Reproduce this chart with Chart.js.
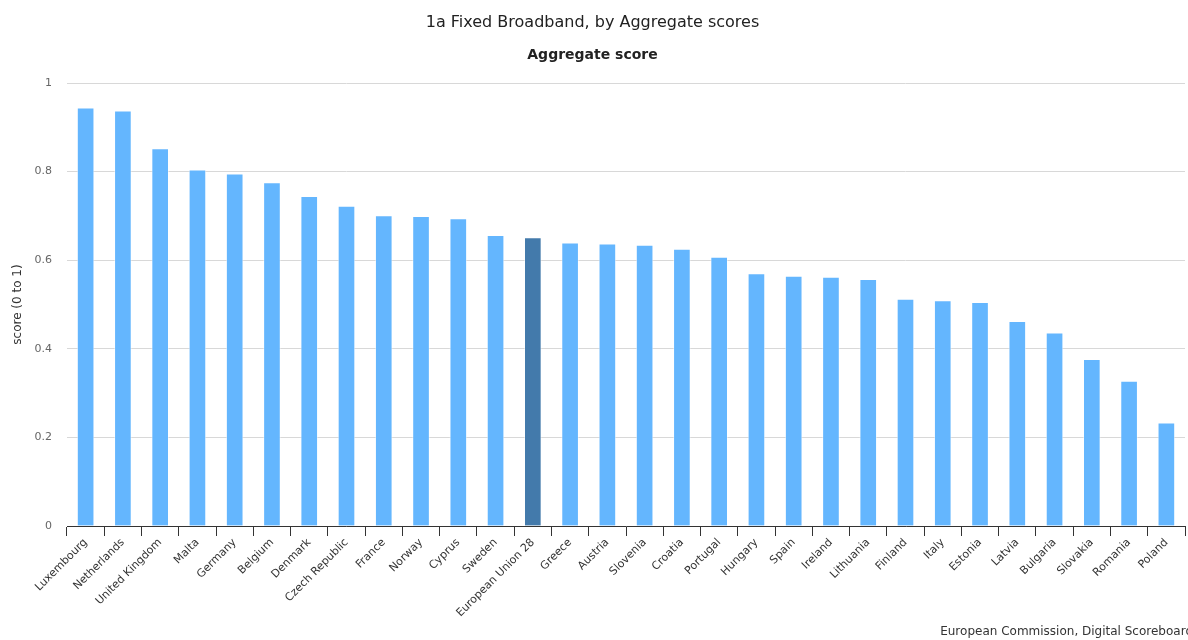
<!DOCTYPE html>
<html>
<head>
<meta charset="utf-8">
<script src="https://cdn.jsdelivr.net/npm/chart.js@4"></script>
<style>
  html, body { margin: 0; padding: 0; background: #ffffff; }
  #wrap { width: 1188px; height: 640px; position: relative; }
</style>
</head>
<body>
<div id="wrap"><canvas id="chart" width="1188" height="640"></canvas></div>
<script>
// Fixed broadband aggregate scores per country
const countries = [
  "Luxembourg", "Netherlands", "United Kingdom", "Malta", "Germany", "Belgium",
  "Denmark", "Czech Republic", "France", "Norway", "Cyprus", "Sweden",
  "European Union 28", "Greece", "Austria", "Slovenia", "Croatia", "Portugal",
  "Hungary", "Spain", "Ireland", "Lithuania", "Finland", "Italy", "Estonia",
  "Latvia", "Bulgaria", "Slovakia", "Romania", "Poland"
];
const scores = [
  0.944, 0.937, 0.852, 0.804, 0.795, 0.775,
  0.744, 0.722, 0.701, 0.699, 0.694, 0.656,
  0.651, 0.639, 0.637, 0.634, 0.625, 0.607,
  0.570, 0.564, 0.562, 0.557, 0.512, 0.509, 0.505,
  0.462, 0.436, 0.376, 0.327, 0.233
];
const yTicks = [0, 0.2, 0.4, 0.6, 0.8, 1];

const countryColor = "#64b6fe";
const euColor = "#437aab";
const barColors = countries.map(c => c === "European Union 28" ? euColor : countryColor);

const FONT = "'DejaVu Sans', Verdana, sans-serif";

// Source line in the bottom-right corner
const creditPlugin = {
  id: "credit",
  afterDraw(chart) {
    const ctx = chart.ctx;
    ctx.save();
    ctx.font = "12px " + FONT;
    ctx.fillStyle = "#333333";
    ctx.textAlign = "right";
    ctx.textBaseline = "middle";
    ctx.fillText("European Commission, Digital Scoreboard", 1193, 632);
    ctx.restore();
  }
};

new Chart(document.getElementById("chart"), {
  type: "bar",
  data: {
    labels: countries,
    datasets: [{
      data: scores,
      backgroundColor: barColors,
      borderColor: "rgba(255,255,255,0.45)",
      borderWidth: 1,
      barThickness: 17
    }]
  },
  options: {
    responsive: false,
    animation: false,
    layout: { padding: { top: 0, right: 3, bottom: 0, left: 0 } },
    plugins: {
      legend: { display: false },
      tooltip: { enabled: false },
      title: {
        display: true,
        text: "1a Fixed Broadband, by Aggregate scores",
        color: "#222222",
        font: { family: FONT, size: 16, weight: "normal" },
        padding: { top: 13, bottom: 12 }
      },
      subtitle: {
        display: true,
        text: "Aggregate score",
        color: "#222222",
        font: { family: FONT, size: 14, weight: "bold" },
        padding: { top: 3, bottom: 19 }
      }
    },
    scales: {
      x: {
        grid: {
          display: true,
          drawOnChartArea: false,
          drawTicks: true,
          tickLength: 10,
          color: "#333333",
          offset: true
        },
        border: { display: true, color: "#333333", width: 1 },
        ticks: {
          color: "#333333",
          font: { family: FONT, size: 11 },
          maxRotation: 45,
          minRotation: 45,
          autoSkip: false,
          padding: 0
        },
        afterFit(scale) { scale.height = 114; }
      },
      y: {
        min: 0,
        max: 1,
        afterBuildTicks(scale) { scale.ticks = yTicks.map(v => ({ value: v })); },
        grid: { color: "#d8d8d8", drawTicks: false },
        border: { display: false },
        ticks: {
          color: "#666666",
          font: { family: FONT, size: 11 },
          padding: 15,
          callback: v => String(v)
        },
        title: {
          display: true,
          text: "score (0 to 1)",
          color: "#333333",
          font: { family: FONT, size: 12 },
          padding: { top: 11, bottom: 6 }
        },
        afterFit(scale) { scale.width = 67; }
      }
    }
  },
  plugins: [creditPlugin]
});
</script>
</body>
</html>
